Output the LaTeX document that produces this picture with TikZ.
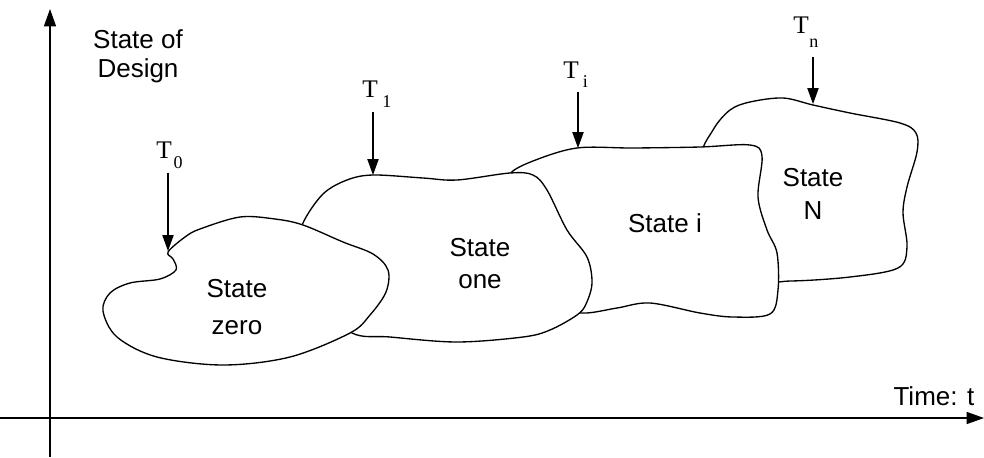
\documentclass[tikz,border=0pt]{standalone}
\usepackage{fontspec}
\setmainfont{Liberation Sans}
\newfontfamily\tfont{Liberation Serif}
\usetikzlibrary{arrows.meta}
% a "T" with a lowered index: gap, drop, index
\newcommand\tlabel[3]{T\hspace{#1}\raisebox{#2}{\fontsize{13.5}{13.5}\selectfont #3}}
\begin{document}
\begin{tikzpicture}[x=0.75pt,y=-0.75pt,
  axis/.style={line width=1pt,-{Triangle[length=13pt,width=9pt]}},
  tarrow/.style={line width=0.8pt,-{Triangle[length=12pt,width=8.5pt]}},
  blob/.style={draw=black,fill=white,line width=1pt},
  txt/.style={font=\fontsize{19.5}{25}\selectfont,align=center,inner sep=0pt},
  tlab/.style={font=\tfont\fontsize{19}{19}\selectfont,inner sep=0pt,anchor=base west}]
\useasboundingbox (0,0) rectangle (984,457);

% axes
\coordinate (xbeg) at (0,418);
\coordinate (xend) at (984,418);
\coordinate (ybeg) at (50,457);
\coordinate (yend) at (50,9);
\draw[axis] (xbeg) -- (xend);
\draw[axis] (ybeg) -- (yend);

\node[txt,font=\fontsize{19.5}{22}\selectfont] (ylab) at (138,56) {State of\\Design};
\node[txt,anchor=base] (xlab) at (934,405) {Time: t};

% design states, back to front
\draw[blob] plot[smooth cycle,tension=0.55] coordinates {
  (713,130) (730,110) (750,102) (783,98) (813,105) (850,113) (900,123)
  (916,133) (917,152) (907,187) (903,213) (907,247) (898,268) (850,277)
  (790,281) (755,278) (725,220) (702,160)};
\draw[blob] plot[smooth cycle,tension=0.55] coordinates {
  (510,174) (533,161) (577,148) (633,148) (700,147) (750,145) (762,156)
  (758,197) (767,230) (777,253) (778,290) (770,314) (733,317) (700,313)
  (650,303) (617,308) (583,313) (555,305) (540,240) (515,190)};
\draw[blob] plot[smooth cycle,tension=0.55] coordinates {
  (303,223) (323,194) (347,180) (373,175) (423,178) (457,180) (510,173)
  (533,175) (547,190) (567,230) (587,257) (592,283) (586,304) (577,315)
  (550,330) (523,337) (457,342) (390,337) (352,333) (315,300) (298,250)};
\draw[blob] plot[smooth cycle,tension=0.55] coordinates {
  (168,252) (185,237) (200,229) (240,217) (275,219) (303,225) (343,242)
  (373,254) (388,270) (386,292) (370,315) (350,333) (290,357) (223,365)
  (157,357) (117,337) (103,311) (110,293) (130,283) (160,279) (176,270)
  (173,259)};

\node[txt,font=\fontsize{19.5}{27.7}\selectfont] (s0) at (237,307) {State\\zero};
\node[txt,font=\fontsize{19.5}{24}\selectfont] (s1) at (480,264) {State\\one};
\node[txt] (si) at (665,223) {State i};
\node[txt,font=\fontsize{19.5}{25}\selectfont] (sn) at (813,194) {State\\N};

% time labels and their arrows
\coordinate (tip0) at (168,251);
\coordinate (tip1) at (373,175);
\coordinate (tipi) at (578,148);
\coordinate (tipn) at (813,104);
\node[tlab] (t0) at (156,158) {\tlabel{1.5pt}{-7.5pt}{0}};
\node[tlab] (t1) at (362,97) {\tlabel{3.5pt}{-7.5pt}{1}};
\node[tlab] (ti) at (563,78) {\tlabel{3pt}{-7pt}{i}};
\node[tlab] (tn) at (793,33) {\tlabel{0.5pt}{-11pt}{n}};
\draw[tarrow] ([yshift=-11pt]t0.base -| tip0) -- (tip0);
\draw[tarrow] ([yshift=-11pt]t1.base -| tip1) -- (tip1);
\draw[tarrow] ([yshift=-10.5pt]ti.base -| tipi) -- (tipi);
\draw[tarrow] ([yshift=-18pt]tn.base -| tipn) -- (tipn);
\end{tikzpicture}
\end{document}
